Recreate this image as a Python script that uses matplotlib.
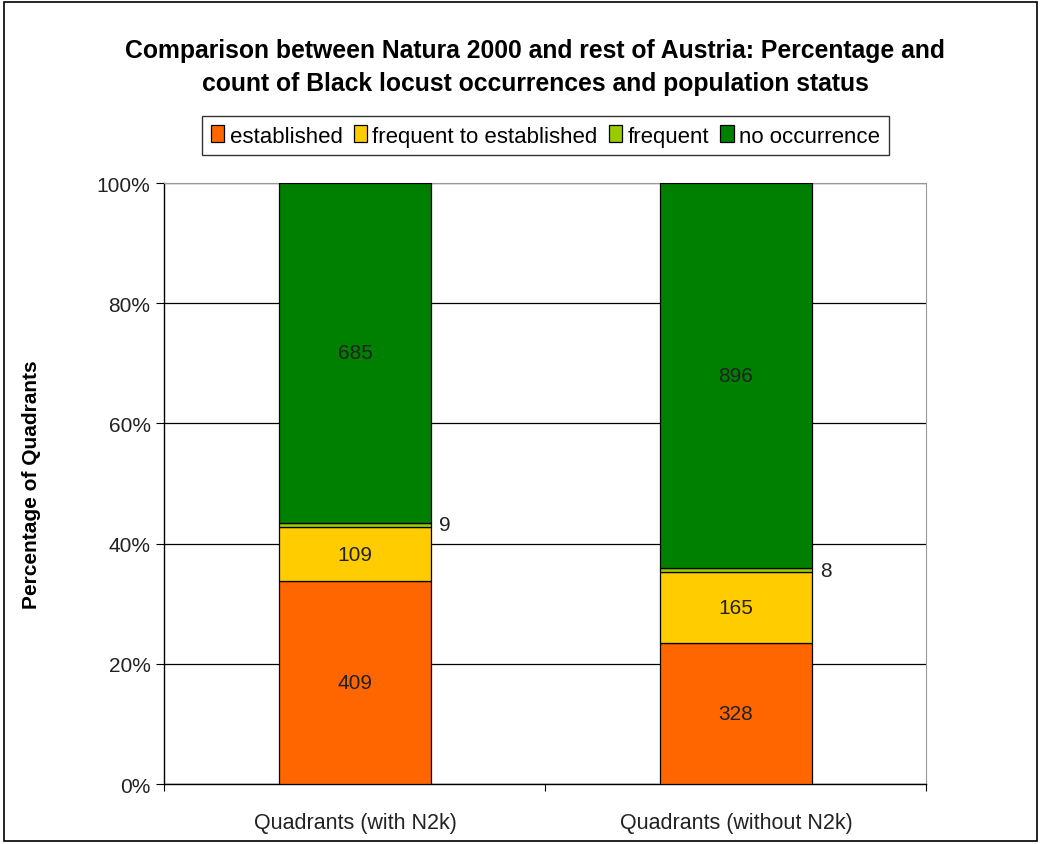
import numpy as np
import matplotlib.pyplot as plt
from matplotlib.patches import Rectangle

plt.rcParams['font.family'] = ['Liberation Sans', 'DejaVu Sans']

categories = ['Quadrants (with N2k)', 'Quadrants (without N2k)']
series = ['established', 'frequent to established', 'frequent', 'no occurrence']
counts = {
    'established': [409, 328],
    'frequent to established': [109, 165],
    'frequent': [9, 8],
    'no occurrence': [685, 896],
}
colors = ['#ff6600', '#ffcc00', '#99cc00', '#008000']

totals = np.sum([counts[s] for s in series], axis=0)

fig = plt.figure(figsize=(10.41, 8.45), dpi=100)
ax = fig.add_axes([0.158, 0.071, 0.732, 0.7112])

x = np.arange(len(categories))
bottom = np.zeros(len(categories))
for name, col in zip(series, colors):
    pct = np.array(counts[name]) / totals * 100
    ax.bar(x, pct, width=0.4, bottom=bottom, color=col, edgecolor='black',
           linewidth=0.9, label=name, zorder=3)
    for i in range(len(categories)):
        mid = bottom[i] + pct[i] / 2
        if name == 'frequent':
            ax.text(x[i] + 0.22, mid, str(counts[name][i]), ha='left',
                    va='center', fontsize=15, color='#222222')
        else:
            ax.text(x[i], mid, str(counts[name][i]), ha='center',
                    va='center', fontsize=15, color='#222222', zorder=4)
    bottom += pct

ax.set_xlim(-0.5, 1.5)
ax.set_ylim(0, 100)
ax.set_yticks(np.arange(0, 101, 20))
ax.set_yticklabels([f'{v}%' for v in range(0, 101, 20)], fontsize=15,
                   color='#222222')
ax.yaxis.grid(True, color='black', linewidth=0.9, zorder=0)
ax.set_xticks([-0.5, 0.5, 1.5])
ax.set_xticklabels([])
ax.set_xticks(x, minor=True)
ax.set_xticklabels(categories, minor=True, fontsize=15.5, color='#222222')
ax.tick_params(axis='x', which='minor', length=0, pad=20)
ax.tick_params(axis='x', which='major', length=5, direction='out')
ax.tick_params(axis='y', length=6, direction='out', pad=4)
for side in ['top', 'right']:
    ax.spines[side].set_color('#999999')
ax.spines['left'].set_linewidth(1.0)
ax.spines['bottom'].set_linewidth(1.0)

ax.set_ylabel('Percentage of Quadrants', fontsize=15, fontweight='bold',
              labelpad=40)

fig.text(0.514, 0.92, 'Comparison between Natura 2000 and rest of Austria: Percentage and\n'
         'count of Black locust occurrences and population status',
         ha='center', va='center', fontsize=17.8, fontweight='bold',
         linespacing=1.5)

leg = fig.legend(loc='center', bbox_to_anchor=(0.524, 0.838), ncol=4,
                 fontsize=16, frameon=True, fancybox=False, edgecolor='black',
                 handlelength=0.6, handleheight=0.8, handletextpad=0.25,
                 columnspacing=0.5, borderpad=0.4)
leg.get_frame().set_linewidth(1.0)

fig.patches.append(Rectangle((0.004, 0.004), 0.992, 0.992,
                             transform=fig.transFigure, fill=False,
                             edgecolor='black', linewidth=1.2))

fig.savefig('out.png', dpi=100)
